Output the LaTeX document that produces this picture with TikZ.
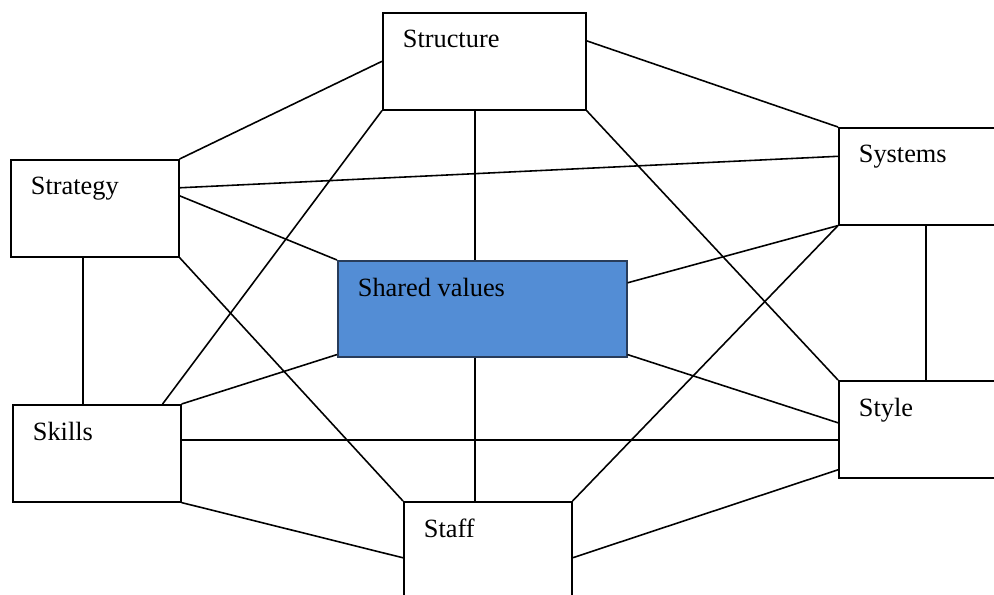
\documentclass[tikz,border=0pt]{standalone}
\usepackage{fontspec}
\setmainfont{Liberation Serif}
\usetikzlibrary{calc}
\definecolor{sharedblue}{RGB}{83,141,213}
\definecolor{sharededge}{RGB}{40,60,90}

\begin{document}
\begin{tikzpicture}[
    sbox/.style={rectangle, draw=black, line width=0.9pt, anchor=north west,
        minimum height=1.94cm, inner sep=0pt},
    boxtext/.style={anchor=north west, inner sep=0pt, xshift=0.41cm, yshift=-0.36cm,
        font=\fontsize{15}{18}\selectfont},
    link/.style={line width=0.9pt}
]
\useasboundingbox (0,0) rectangle (19.88,-11.88);
\clip (0,0) rectangle (19.88,-11.88);

% The seven boxes
\node[sbox, minimum width=4.06cm, label={[boxtext]north west:Structure}] (str) at (7.64,-0.24) {};
\node[sbox, minimum width=3.36cm, label={[boxtext]north west:Strategy}] (stg) at (0.20,-3.18) {};
\node[sbox, minimum width=3.50cm, label={[boxtext]north west:Systems}] (sys) at (16.76,-2.54) {};
\node[sbox, minimum width=5.78cm, minimum height=1.92cm, fill=sharedblue, draw=sharededge,
    label={[boxtext]north west:Shared values}] (sv) at (6.74,-5.20) {};
\node[sbox, minimum width=3.36cm, minimum height=1.94cm, label={[boxtext]north west:Skills}] (skl) at (0.24,-8.08) {};
\node[sbox, minimum width=3.50cm, label={[boxtext]north west:Style}] (sty) at (16.76,-7.60) {};
\node[sbox, minimum width=3.36cm, label={[boxtext]north west:Staff}] (stf) at (8.06,-10.02) {};

% Links from Structure
\draw[link] (str.west) -- (stg.north east);
\draw[link] ([yshift=0.41cm]str.east) -- (sys.north west);
\draw[link] (str.south west) -- ([xshift=-0.38cm]skl.north east);
\draw[link] ($(str.south west)!0.4557!(str.south east)$) coordinate (c1) -- (c1 |- sv.north);
\draw[link] (str.south east) -- (sty.north west);

% Links from Strategy
\draw[link] ([yshift=0.41cm]stg.east) -- ([yshift=0.40cm]sys.west);
\draw[link] ([yshift=0.25cm]stg.east) -- (sv.north west);
\draw[link] (stg.south east) -- (stf.north west);
\draw[link] ([xshift=1.46cm]stg.south west) coordinate (c2) -- (c2 |- skl.north);

% Links from Systems
\draw[link] (sys.south west) -- ([yshift=0.52cm]sv.east);
\draw[link] (sys.south west) -- (stf.north east);
\draw[link] ([xshift=1.76cm]sys.south west) coordinate (c3) -- (c3 |- sty.north);

% Links from Shared values
\draw[link] ([yshift=0.06cm]sv.south east) -- ([yshift=0.13cm]sty.west);
\draw[link] ([yshift=0.06cm]sv.south west) -- (skl.north east);
\draw[link] ($(sv.south west)!0.4758!(sv.south east)$) coordinate (c4) -- (c4 |- stf.north);

% Links along the bottom
\draw[link] ([yshift=0.27cm]skl.east) -- ([yshift=0.27cm]skl.east -| sty.west);
\draw[link] (skl.south east) -- ([yshift=-0.15cm]stf.west);
\draw[link] ([yshift=-0.15cm]stf.east) -- ([yshift=-0.81cm]sty.west);

\end{tikzpicture}
\end{document}
